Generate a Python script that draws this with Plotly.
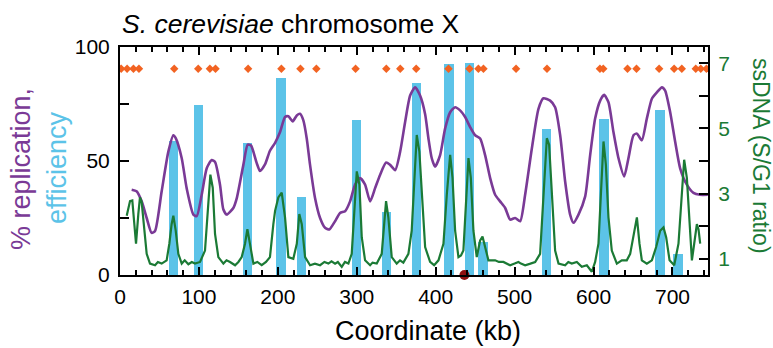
import plotly.graph_objects as go

# ---- data -------------------------------------------------------------
# Origin efficiency bars: origin position (kb) and efficiency (%)
origin_kb = [67.7, 99.3, 161.7, 203.9, 229.9, 299.6, 337.4, 375.5,
             417.1, 443.1, 460.1, 540.5, 613.2, 684.0, 707.1]
origin_eff = [58.6, 74.7, 57.9, 86.5, 34.0, 68.0, 27.8, 84.3,
              92.6, 93.0, 14.4, 64.2, 68.6, 72.2, 9.2]

# Annotated ARS positions (kb)
ars_kb = [1.5, 9, 17, 24, 68.7, 99.1, 113.9, 121, 162.3, 204.5, 228.6,
          248.8, 298.5, 337.4, 355.1, 375.3, 416.2, 442.8, 454.1, 460.5,
          501.8, 541, 608.1, 612.3, 643, 654.4, 683.1, 702.1, 711.8,
          729.5, 735.8, 743]
ars_level = 90.5

# Centromere position (kb)
cen_kb = [436.4]
cen_level = [0]

# % replication profile
rep_kb = [14.8, 21, 27.5, 33.8, 40, 44.4, 52.8, 61.2, 67.6, 70.6, 78.2,
          84.5, 93, 97.2, 103.5, 109.9, 116.2, 120.4, 126.7, 131, 135.2,
          143.6, 147.9, 156.3, 161.8, 166, 173.3, 177.4, 183.7, 190, 196.5,
          202.8, 209.1, 213.3, 218.8, 224, 228.1, 232.3, 236.6, 240.8,
          247.1, 253.5, 259.8, 265.3, 272.5, 278.8, 285.2, 291.5, 297.8,
          304.2, 310.5, 316.9, 323.2, 329.5, 337.1, 342.2, 348.6, 354.9,
          361.2, 367.6, 373.9, 380.2, 386.6, 390.8, 395, 399.2, 405.6,
          411.9, 418.3, 424.6, 430.9, 437.3, 443.6, 450, 456.3, 462.6,
          469, 475.3, 481.6, 488, 494.3, 500.6, 507, 513.3, 521.8, 530.2,
          536.5, 545, 551.3, 557.7, 564, 570.3, 574.6, 580.9, 589.4,
          595.7, 602, 608.4, 613.4, 618.9, 625.2, 631.6, 638.8, 644.2,
          650.6, 654.9, 661.2, 667.5, 673.9, 680.2, 686.6, 690.7, 697.1,
          703.4, 709.7, 718.2, 726.6, 735, 744.8]
rep_pct = [37.4, 36.7, 32.3, 25, 18.5, 19.3, 36.7, 54, 61.3, 60, 51.2,
           38, 26.5, 25.8, 35.2, 46.8, 50.4, 49.6, 39.6, 28.7, 26.5,
           29.4, 33.6, 48.3, 57.2, 56.8, 49, 45.6, 48.5, 54.5, 58,
           62.7, 69.3, 69.6, 67.4, 70, 70.7, 67.8, 59.9, 48.3,
           33.8, 25, 20.7, 20, 23.6, 27.2, 28, 32.3, 39.6,
           42.5, 39.6, 32.3, 38.1, 43.9, 49.3, 48.3, 46, 54,
           67, 78.7, 82.3, 78.7, 70.5, 59.9, 51.2, 47.5, 52.6,
           64.2, 71.4, 73.6, 72.2, 69.3, 64.9, 61.3, 59.9, 52.6,
           42.5, 35.2, 32.3, 29.4, 24.3, 25, 23.6, 35.2, 55.5, 72.9,
           77.5, 76.5, 73.6, 61.3, 41, 26.5, 22.9, 26.5, 34.5,
           52.6, 68.6, 76.5, 79, 75.8, 62.7, 51.2, 43.2, 51.2,
           61.3, 62, 59.1, 68.6, 77.3, 80.1, 82.3, 80.9, 71.4,
           58.4, 46.8, 39.6, 36, 35.2, 35.2]

# ssDNA (S/G1 ratio) profile
ss_kb = [8.5, 12.7, 15.6, 18.1, 20.3, 23.2, 25.3, 27.4, 30.8, 33.8, 38,
         44.4, 48, 52.8, 59.1, 62.5, 65.4, 67.6, 70.6, 73.9, 78.2, 82,
         86.6, 91, 95, 101.4, 107.7, 111.9, 114.5, 117.5, 120.4, 124.6,
         131, 135, 139.4, 145.8, 150, 154.2, 158.4, 161.4, 164.8, 169,
         174, 179.5, 185, 190, 194.3, 196.5, 200.6, 204.9, 209.1, 213.3,
         219.6, 224, 227.2, 230.3, 234.5, 240.8, 247, 253.5, 259, 264,
         268, 272.5, 276, 281, 285, 289.4, 293.6, 297.8, 300, 303.3,
         306.3, 310.5, 316.9, 320, 325.3, 331.6, 335, 337.1, 340, 344.3,
         350.6, 354.8, 359, 365.4, 369.6, 372.6, 376, 379.3, 382.3,
         386.6, 392.9, 398, 403.5, 409.8, 414.1, 418.3, 421.3, 424.6,
         428.8, 432, 435.1, 439.4, 441.5, 444.5, 447.8, 452, 456.3,
         459.3, 462.6, 466.8, 475.3, 480, 485.8, 490, 494.3, 500, 504.8,
         508, 513.3, 520, 526, 532.3, 536.5, 540.8, 543.7, 547.2, 551.3,
         555.6, 564, 568, 572.4, 578.8, 585.1, 591.5, 597.8, 602, 606.2,
         609.3, 612.6, 615.6, 618.9, 623.1, 629.5, 635.8, 642.1, 646.4,
         651.5, 654.9, 658.2, 661.2, 667.5, 673.9, 679.3, 684.4, 688.6,
         692, 696.3, 702.2, 707.6, 711.8, 714.8, 718.2, 721.6, 724.6,
         727.5, 730.9, 733, 735.1]
ss_ratio = [2.32, 2.77, 2.79, 2.06, 1.46, 2.37, 2.88, 2.75, 1.76, 1.15, 0.85,
            0.8, 0.9, 0.85, 0.95, 1.46, 2.06, 2.32, 1.86, 1.15, 0.85, 0.95,
            0.83, 0.9, 0.85, 0.9, 1.25, 2.77, 3.58, 3.18, 1.76, 1.05,
            0.85, 0.95, 0.9, 0.8, 0.9, 1.05, 1.46, 1.91, 1.46, 0.85,
            0.9, 0.8, 0.9, 1.05, 2.06, 2.47, 2.88, 3.03, 2.27, 1.05,
            1.0, 1.46, 2.37, 2.06, 1.05, 0.8, 0.85, 0.8, 0.9, 0.85,
            0.92, 0.85, 0.9, 0.75, 0.9, 0.85, 1.15, 2.98, 3.68, 3.28,
            1.66, 0.95, 0.8, 0.88, 0.85, 1.15, 2.27, 2.77, 2.27, 1.05,
            0.85, 0.95, 0.88, 1.15, 1.86, 3.48, 4.8, 4.29, 2.98,
            1.36, 0.9, 0.8, 0.95, 1.46, 2.98, 4.19, 3.48, 1.86,
            1.05, 1.1, 1.25, 3.28, 4.09, 3.48, 1.86, 1.05, 1.56,
            1.68, 1.36, 0.95, 0.95, 0.9, 0.9, 0.85, 0.8, 0.85, 0.9,
            0.85, 0.8, 0.85, 0.9, 1.15, 2.88, 4.7, 4.5, 2.98, 1.25,
            0.85, 0.8, 0.9, 0.85, 0.9, 0.75, 0.8, 0.6, 0.9, 1.46,
            2.98, 4.6, 3.89, 2.27, 1.25, 0.85, 0.95, 0.95, 1.15,
            1.86, 2.27, 1.46, 0.95, 0.85, 0.95, 1.36, 1.86, 1.96,
            1.66, 0.95, 0.8, 1.46, 2.98, 4.04, 3.48, 1.96, 0.95,
            1.46, 2.06, 1.9, 1.46]

x_ticks = [0, 100, 200, 300, 400, 500, 600, 700]
left_ticks = [0, 50, 100]
right_ticks = [1, 3, 5, 7]

# ---- styling ------------------------------------------------------------
FONT = "Liberation Sans, Arial, Helvetica, sans-serif"
PURPLE = "#7A3A96"
CYAN = "#5CC3E8"
GREEN = "#1B7A35"
ORANGE = "#F26322"
DARKRED = "#8E1010"

W, H = 773, 348
ML, MR, MT, MB = 120, 65, 47, 73
PW, PH = W - ML - MR, H - MT - MB


def px_to_paper(px, py):
    return (px - ML) / PW, (H - MB - py) / PH


fig = go.Figure()

fig.add_trace(go.Bar(x=origin_kb, y=origin_eff, width=12,
                     marker=dict(color=CYAN, line=dict(width=0)),
                     yaxis="y", showlegend=False))

fig.add_trace(go.Scatter(x=rep_kb, y=rep_pct, mode="lines",
                         line=dict(color=PURPLE, width=2.6, shape="spline", smoothing=0.6),
                         yaxis="y", showlegend=False))

fig.add_trace(go.Scatter(x=ars_kb, y=[ars_level] * len(ars_kb), mode="markers",
                         marker=dict(symbol="diamond", size=6.5, color=ORANGE),
                         yaxis="y", showlegend=False))

fig.add_trace(go.Scatter(x=cen_kb, y=cen_level, mode="markers",
                         marker=dict(symbol="circle", size=10, color=DARKRED),
                         cliponaxis=False, yaxis="y", showlegend=False))

fig.add_trace(go.Scatter(x=ss_kb, y=ss_ratio, mode="lines",
                         line=dict(color=GREEN, width=2.2),
                         yaxis="y2", showlegend=False))

axis_common = dict(showline=True, linecolor="black", linewidth=2,
                   showgrid=False, zeroline=False, ticks="inside",
                   tickcolor="black", tickwidth=1.5)

fig.update_layout(
    width=W, height=H,
    margin=dict(l=ML, r=MR, t=MT, b=MB),
    paper_bgcolor="white", plot_bgcolor="white",
    font=dict(family=FONT, size=21, color="black"),
    bargap=0,
    xaxis=dict(**axis_common, range=[0, 745], tickvals=x_ticks,
               ticklen=8, mirror="ticks", ticklabelstandoff=2,
               minor=dict(dtick=20, tick0=0, ticks="inside", ticklen=5,
                          tickcolor="black", tickwidth=1.5)),
    yaxis=dict(**axis_common, range=[0, 100], tickvals=left_ticks,
               ticklen=9, ticklabelstandoff=4,
               minor=dict(tickvals=[25, 75], ticks="inside", ticklen=9,
                          tickcolor="black", tickwidth=1.5)),
    yaxis2=dict(**axis_common, range=[0.5, 7.5], tickvals=right_ticks,
                overlaying="y", side="right", ticklen=9, ticklabelstandoff=4,
                tickfont=dict(color=GREEN, size=21),
                minor=dict(tickvals=[2, 4, 6], ticks="inside", ticklen=9,
                           tickcolor="black", tickwidth=1.5)),
)

annotations = []

# title
annotations.append(dict(text="<i>S. cerevisiae</i> chromosome X",
                        xref="paper", yref="paper", x=0, y=1,
                        xanchor="left", yanchor="bottom", yshift=6,
                        showarrow=False, font=dict(size=26.5, color="black")))

# axis titles
ax, ay = px_to_paper(428, 331)
annotations.append(dict(text="Coordinate (kb)", xref="paper", yref="paper",
                        x=ax, y=ay, xanchor="center", yanchor="middle",
                        showarrow=False, font=dict(size=27, color="black")))

ax, ay = px_to_paper(21, 169)
annotations.append(dict(text="% replication,", xref="paper", yref="paper",
                        x=ax, y=ay, xanchor="center", yanchor="middle",
                        textangle=-90, showarrow=False,
                        font=dict(size=27, color=PURPLE)))

ax, ay = px_to_paper(56.5, 167.5)
annotations.append(dict(text="efficiency", xref="paper", yref="paper",
                        x=ax, y=ay, xanchor="center", yanchor="middle",
                        textangle=-90, showarrow=False,
                        font=dict(size=27, color=CYAN)))

ax, ay = px_to_paper(761, 156)
annotations.append(dict(text="ssDNA (S/G1 ratio)", xref="paper", yref="paper",
                        x=ax, y=ay, xanchor="center", yanchor="middle",
                        textangle=90, showarrow=False,
                        font=dict(size=23, color=GREEN)))

fig.update_layout(annotations=annotations)

fig.write_html("out.html")
